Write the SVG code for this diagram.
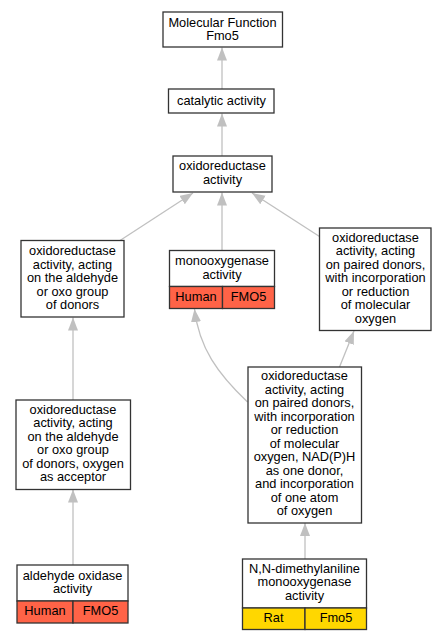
<svg xmlns="http://www.w3.org/2000/svg" width="445" height="640" viewBox="0 0 445 640">
<style>
.box{fill:#fff;stroke:#333;stroke-width:1.3}
.red{fill:#ff6347;stroke:#333;stroke-width:1.3}
.gold{fill:#ffd700;stroke:#333;stroke-width:1.3}
text{font-family:"Liberation Sans",Arial,sans-serif;font-size:12.8px;fill:#000;text-anchor:middle}
.edge{fill:none;stroke:#c0c0c0;stroke-width:1.3}
</style>
<defs>
<marker id="arr" markerUnits="userSpaceOnUse" markerWidth="14" markerHeight="12" refX="13" refY="5" orient="auto">
<path d="M0,0 L13,5 L0,10 z" fill="#c0c0c0"/>
</marker>
</defs>
<rect width="445" height="640" fill="#fff"/>
<g id="edges">
<line class="edge" x1="222" y1="89" x2="222" y2="47.5" marker-end="url(#arr)"/>
<line class="edge" x1="222" y1="156" x2="222" y2="113.5" marker-end="url(#arr)"/>
<line class="edge" x1="120" y1="240.5" x2="193" y2="193" marker-end="url(#arr)"/>
<line class="edge" x1="222" y1="250.5" x2="222" y2="192.5" marker-end="url(#arr)"/>
<line class="edge" x1="319.5" y1="236.5" x2="252" y2="193" marker-end="url(#arr)"/>
<line class="edge" x1="73" y1="400" x2="73" y2="317.5" marker-end="url(#arr)"/>
<path class="edge" d="M247.5,402 C218,374 199,348 194.5,309" marker-end="url(#arr)"/>
<line class="edge" x1="339.5" y1="367" x2="354" y2="331" marker-end="url(#arr)"/>
<line class="edge" x1="73" y1="565" x2="73" y2="489.5" marker-end="url(#arr)"/>
<line class="edge" x1="305" y1="559" x2="305" y2="523" marker-end="url(#arr)"/>
</g>
<g id="n_mf">
<rect class="box" x="163" y="12" width="119.5" height="35"/>
<text x="222.5" y="26.5">Molecular Function</text>
<text x="222.5" y="40">Fmo5</text>
</g>
<g id="n_catalytic">
<rect class="box" x="168.5" y="89" width="105.5" height="24"/>
<text x="221.5" y="105">catalytic activity</text>
</g>
<g id="n_oxidoreductase">
<rect class="box" x="173" y="156" width="99" height="36"/>
<text x="222.5" y="170">oxidoreductase</text>
<text x="222.5" y="183.5">activity</text>
</g>
<g id="n_aldehyde_group">
<rect class="box" x="21" y="240.5" width="103" height="76.5"/>
<text x="72.5" y="255">oxidoreductase</text>
<text x="72.5" y="268.5">activity, acting</text>
<text x="72.5" y="282">on the aldehyde</text>
<text x="72.5" y="295.5">or oxo group</text>
<text x="72.5" y="309">of donors</text>
</g>
<g id="n_monooxygenase">
<rect class="box" x="169.5" y="250.5" width="105" height="36"/>
<rect class="red" x="169.5" y="286.5" width="53" height="22"/>
<rect class="red" x="222.5" y="286.5" width="52" height="22"/>
<text x="222" y="265">monooxygenase</text>
<text x="222" y="278.5">activity</text>
<text x="196" y="300.5">Human</text>
<text x="248.5" y="300.5">FMO5</text>
</g>
<g id="n_paired">
<rect class="box" x="319.5" y="228" width="111.5" height="102.5"/>
<text x="375.5" y="241.7">oxidoreductase</text>
<text x="375.5" y="255.2">activity, acting</text>
<text x="375.5" y="268.7">on paired donors,</text>
<text x="375.5" y="282.2">with incorporation</text>
<text x="375.5" y="295.7">or reduction</text>
<text x="375.5" y="309.2">of molecular</text>
<text x="375.5" y="322.7">oxygen</text>
</g>
<g id="n_oxygen_acceptor">
<rect class="box" x="16" y="400" width="114.5" height="89.5"/>
<text x="73" y="413.8">oxidoreductase</text>
<text x="73" y="427.3">activity, acting</text>
<text x="73" y="440.8">on the aldehyde</text>
<text x="73" y="454.3">or oxo group</text>
<text x="73" y="467.8">of donors, oxygen</text>
<text x="73" y="481.3">as acceptor</text>
</g>
<g id="n_nadph">
<rect class="box" x="248" y="367" width="113.5" height="156"/>
<text x="304.5" y="380.3">oxidoreductase</text>
<text x="304.5" y="393.8">activity, acting</text>
<text x="304.5" y="407.3">on paired donors,</text>
<text x="304.5" y="420.8">with incorporation</text>
<text x="304.5" y="434.3">or reduction</text>
<text x="304.5" y="447.8">of molecular</text>
<text x="304.5" y="461.3">oxygen, NAD(P)H</text>
<text x="304.5" y="474.8">as one donor,</text>
<text x="304.5" y="488.3">and incorporation</text>
<text x="304.5" y="501.8">of one atom</text>
<text x="304.5" y="515.3">of oxygen</text>
</g>
<g id="n_aldehyde_oxidase">
<rect class="box" x="17" y="565" width="111" height="36"/>
<rect class="red" x="17" y="601" width="56" height="22"/>
<rect class="red" x="73" y="601" width="55" height="22"/>
<text x="72.5" y="579.5">aldehyde oxidase</text>
<text x="72.5" y="593">activity</text>
<text x="45" y="615">Human</text>
<text x="100.5" y="615">FMO5</text>
</g>
<g id="n_dimethylaniline">
<rect class="box" x="242.5" y="559" width="124" height="49"/>
<rect class="gold" x="242.5" y="608" width="62.5" height="21.5"/>
<rect class="gold" x="305" y="608" width="61.5" height="21.5"/>
<text x="304.5" y="572.9">N,N-dimethylaniline</text>
<text x="304.5" y="586.4">monooxygenase</text>
<text x="304.5" y="599.9">activity</text>
<text x="273.5" y="621.5">Rat</text>
<text x="336" y="621.5">Fmo5</text>
</g>
</svg>
